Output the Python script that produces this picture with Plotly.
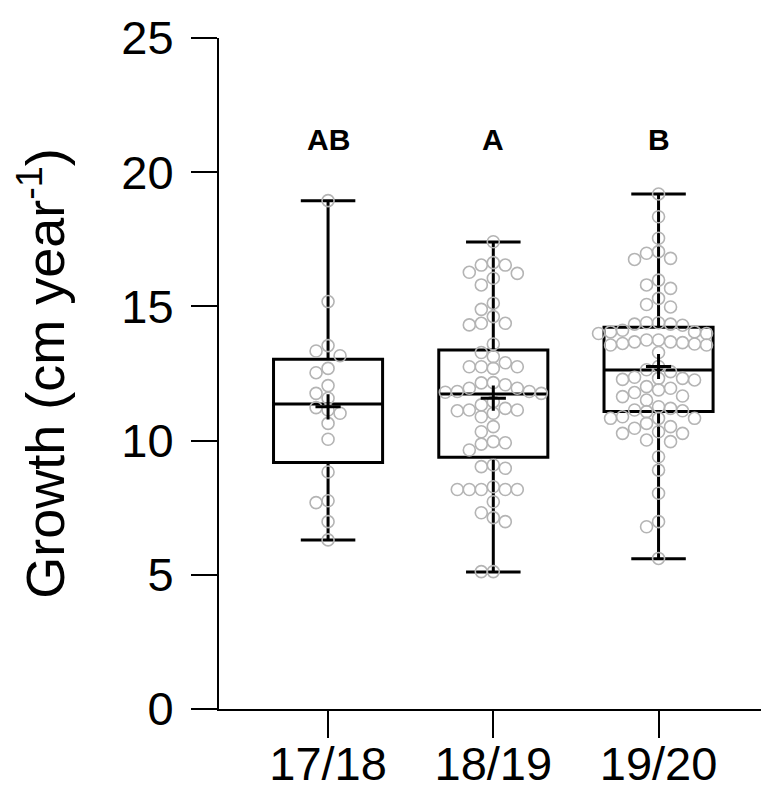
import plotly.graph_objects as go

# ---------------- data ----------------
categories = ["17/18", "18/19", "19/20"]
letters = ["AB", "A", "B"]
letter_y = 21.2

growth_1718 = [18.94, 15.18, 13.54, 13.34, 13.16, 12.69, 12.53, 12.05, 11.76, 11.58,
               11.23, 11.02, 11.14, 10.64, 10.05, 8.83, 7.69, 7.76, 6.98, 6.30]

growth_1819 = [17.41, 16.54, 16.23, 16.54, 16.63, 16.27, 16.05, 15.80, 15.12, 14.89,
               14.62, 14.37, 14.31, 14.37, 13.60, 13.28, 13.13, 12.75, 12.69, 12.90,
               12.75, 12.75, 12.16, 12.15, 11.95, 12.08, 11.95, 11.83, 11.76, 11.83,
               11.80, 11.45, 11.20, 11.33, 10.89, 11.02, 11.14, 11.14, 11.11, 10.52,
               10.33, 9.92, 9.96, 9.65, 9.87, 8.97, 9.03, 9.09, 8.18, 8.18,
               8.18, 8.18, 8.28, 8.18, 7.72, 7.31, 6.98, 7.13, 5.12, 5.12]

growth_1920 = [19.19, 18.34, 17.54, 16.98, 16.75, 16.79, 17.04, 15.98, 15.80, 15.67,
               15.30, 15.07, 14.98, 14.34, 14.05, 14.30, 13.99, 14.11, 13.99, 14.39,
               14.39, 14.34, 14.05, 13.62, 13.60, 13.65, 13.56, 13.68, 13.68, 13.56,
               13.75, 13.75, 13.28, 12.76, 12.32, 12.26, 12.32, 12.64, 12.28, 12.57,
               12.36, 11.89, 11.95, 11.79, 12.01, 11.64, 11.66, 11.51, 11.26, 11.11,
               11.14, 11.08, 11.20, 10.83, 10.83, 10.83, 10.89, 10.64, 10.52, 10.46,
               10.27, 10.27, 10.33, 9.96, 10.02, 9.40, 8.90, 8.04, 6.98, 6.79, 5.61]

q1_vals = [9.18, 9.38, 11.08]
median_vals = [11.36, 11.74, 12.63]
q3_vals = [13.03, 13.38, 14.22]
mean_vals = [11.26, 11.58, 12.76]
lower_vals = [6.30, 5.10, 5.60]
upper_vals = [18.94, 17.40, 19.19]

groups = [growth_1718, growth_1819, growth_1920]

# ---------------- layout constants ----------------
W, H = 761, 789
ML, MR, MT, MB = 219, 0, 38, 80
X_RANGE = [-0.66, 2.62]
Y_RANGE = [0, 25]
px_per_x = (W - ML - MR) / (X_RANGE[1] - X_RANGE[0])
px_per_y = (H - MT - MB) / (Y_RANGE[1] - Y_RANGE[0])
COL_STEP = 12.0   # px between swarm columns
DIAM = 12.0       # px collision distance


def beeswarm(values):
    """Deterministic column beeswarm layout, returns x offsets (data units)."""
    order = sorted(range(len(values)), key=lambda i: -values[i])
    placed = []  # (xpx, ypx)
    offs = [0.0] * len(values)
    cand = [0]
    for k in range(1, 12):
        cand += [-k, k]
    for i in order:
        y = values[i] * px_per_y
        for k in cand:
            x = k * COL_STEP
            ok = True
            for (px, py) in placed:
                if ((px - x) ** 2 + (py - y) ** 2) ** 0.5 < DIAM - 0.5:
                    ok = False
                    break
            if ok:
                placed.append((x, y))
                offs[i] = x / px_per_x
                break
    return offs


fig = go.Figure()

# points
for ci, vals in enumerate(groups):
    offs = beeswarm(vals)
    fig.add_trace(go.Scatter(
        x=[ci + o for o in offs], y=vals, mode="markers",
        marker=dict(symbol="circle-open", size=12, color="#b4b4b4",
                    line=dict(width=1.6, color="#b4b4b4")),
        showlegend=False, hoverinfo="y", xaxis="x2"))

# boxes
fig.add_trace(go.Box(
    x=categories, q1=q1_vals, median=median_vals, q3=q3_vals,
    lowerfence=lower_vals, upperfence=upper_vals,
    boxpoints=False, width=0.66, whiskerwidth=0.5,
    fillcolor="rgba(0,0,0,0)", line=dict(color="black", width=3),
    showlegend=False))

# means
fig.add_trace(go.Scatter(
    x=list(range(len(categories))), y=mean_vals, mode="markers",
    marker=dict(symbol="cross-thin", size=18, color="black",
                line=dict(width=3, color="black")),
    showlegend=False, xaxis="x2"))

# significance letters
for c, t in zip(categories, letters):
    fig.add_annotation(x=c, y=letter_y, text="<b>%s</b>" % t, showarrow=False,
                       font=dict(family="Liberation Sans, Arial", size=30, color="black"),
                       xanchor="center", yanchor="middle")

axis_font = dict(family="Liberation Sans, Arial", size=47, color="black")

fig.update_layout(
    width=W, height=H,
    margin=dict(l=ML, r=MR, t=MT, b=MB, pad=0, autoexpand=False),
    paper_bgcolor="white", plot_bgcolor="white",
    showlegend=False,
    font=dict(family="Liberation Sans, Arial", color="black"),
    xaxis=dict(type="category", categoryorder="array", categoryarray=categories,
               range=X_RANGE, showline=True, linewidth=2, linecolor="black",
               ticks="outside", ticklen=27, tickwidth=2, tickcolor="black",
               showgrid=False, zeroline=False, tickfont=axis_font,
               ticklabelstandoff=-14, automargin=False),
    xaxis2=dict(overlaying="x", range=X_RANGE, visible=False, showgrid=False,
                zeroline=False, automargin=False),
    yaxis=dict(range=Y_RANGE, tickvals=[0, 5, 10, 15, 20, 25],
               showline=True, linewidth=2, linecolor="black",
               ticks="outside", ticklen=26, tickwidth=2, tickcolor="black",
               showgrid=False, zeroline=False, tickfont=axis_font,
               ticklabelstandoff=8, automargin=False,
               title=dict(text="Growth (cm year<sup>-1</sup>)",
                          font=dict(family="Liberation Sans, Arial", size=54, color="black"),
                          standoff=39)),
)

fig.write_html("out.html")
